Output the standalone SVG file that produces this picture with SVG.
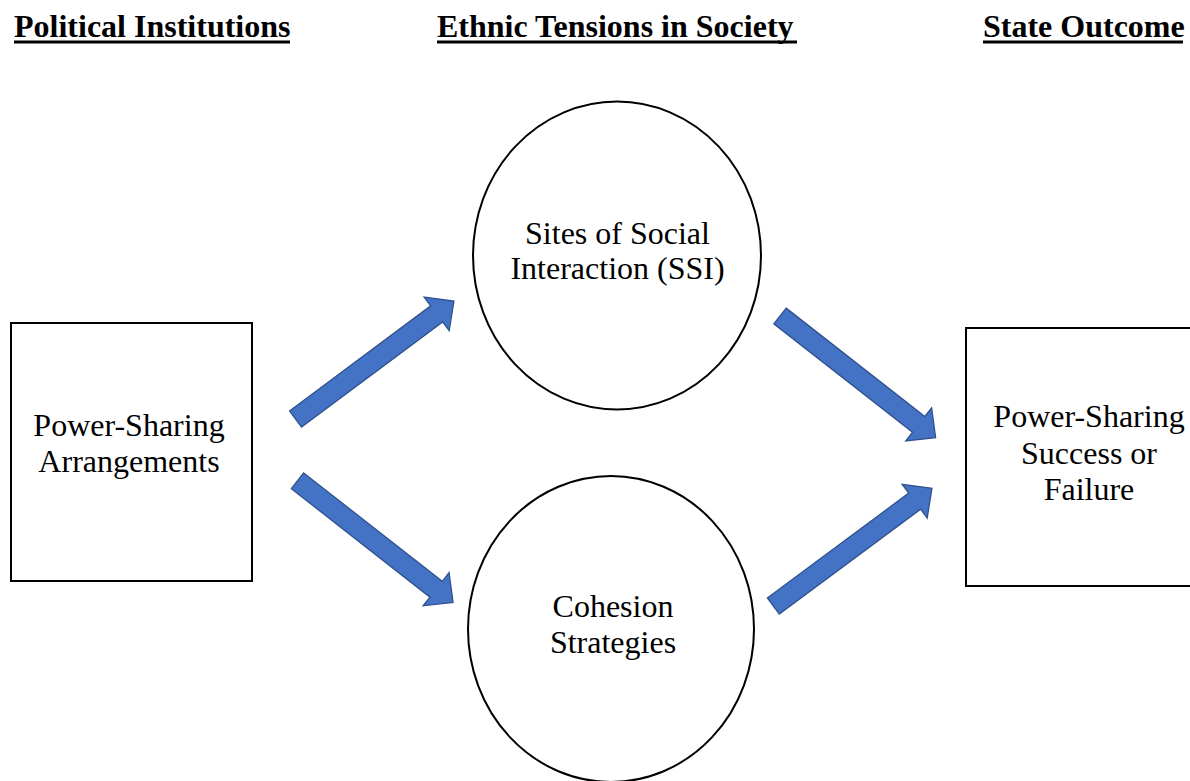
<svg xmlns="http://www.w3.org/2000/svg" xmlns:xlink="http://www.w3.org/1999/xlink" width="1190" height="781" viewBox="0 0 1190 781">
<style>
.hdr{font-family:"Liberation Serif","Times New Roman",serif;font-weight:bold;font-size:32px;fill:#000}
.ul{stroke:#000;stroke-width:3}
.lbl{font-family:"Liberation Serif","Times New Roman",serif;font-size:32px;fill:#000;text-anchor:middle}
.shape{fill:#fff;stroke:#000;stroke-width:2}
.arrow{fill:#4472C4;stroke:#2F528F;stroke-width:1.3;stroke-linejoin:miter}
</style>
<defs>
<path id="arr" d="M0,-10 L176,-10 L176,-21 L197.5,0 L176,21 L176,10 L0,10 Z"/>
</defs>
<rect width="1190" height="781" fill="#fff"/>
<g id="headers">
<text class="hdr" x="14" y="36.5">Political Institutions</text>
<line class="ul" x1="14" y1="42" x2="290" y2="42"/>
<text class="hdr" x="437" y="36.5">Ethnic Tensions in Society</text>
<line class="ul" x1="437" y1="42" x2="797" y2="42"/>
<text class="hdr" x="983" y="36.5">State Outcome</text>
<line class="ul" x1="983" y1="42" x2="1183" y2="42"/>
</g>
<g id="node-arrangements">
<rect class="shape" x="11" y="323" width="241" height="258"/>
<text class="lbl" x="129" y="436">Power-Sharing</text>
<text class="lbl" x="129" y="472">Arrangements</text>
</g>
<g id="node-ssi">
<ellipse class="shape" cx="617" cy="255.5" rx="144" ry="154"/>
<text class="lbl" x="617.5" y="243.5">Sites of Social</text>
<text class="lbl" x="617.5" y="279">Interaction (SSI)</text>
</g>
<g id="node-cohesion">
<ellipse class="shape" cx="611" cy="629" rx="143" ry="153"/>
<text class="lbl" x="613" y="616.5">Cohesion</text>
<text class="lbl" x="613" y="652.5">Strategies</text>
</g>
<g id="node-outcome">
<rect class="shape" x="966" y="328" width="240" height="258"/>
<text class="lbl" x="1089" y="427">Power-Sharing</text>
<text class="lbl" x="1089" y="463.5">Success or</text>
<text class="lbl" x="1089" y="499.5">Failure</text>
</g>
<g id="connectors">
<use xlink:href="#arr" class="arrow" transform="translate(295.5,419) rotate(-36.67)"/>
<use xlink:href="#arr" class="arrow" transform="translate(297.5,480.8) rotate(38.04)"/>
<use xlink:href="#arr" class="arrow" transform="translate(780,316) rotate(38.0)"/>
<use xlink:href="#arr" class="arrow" transform="translate(773.3,606) rotate(-36.56)"/>
</g>
</svg>
